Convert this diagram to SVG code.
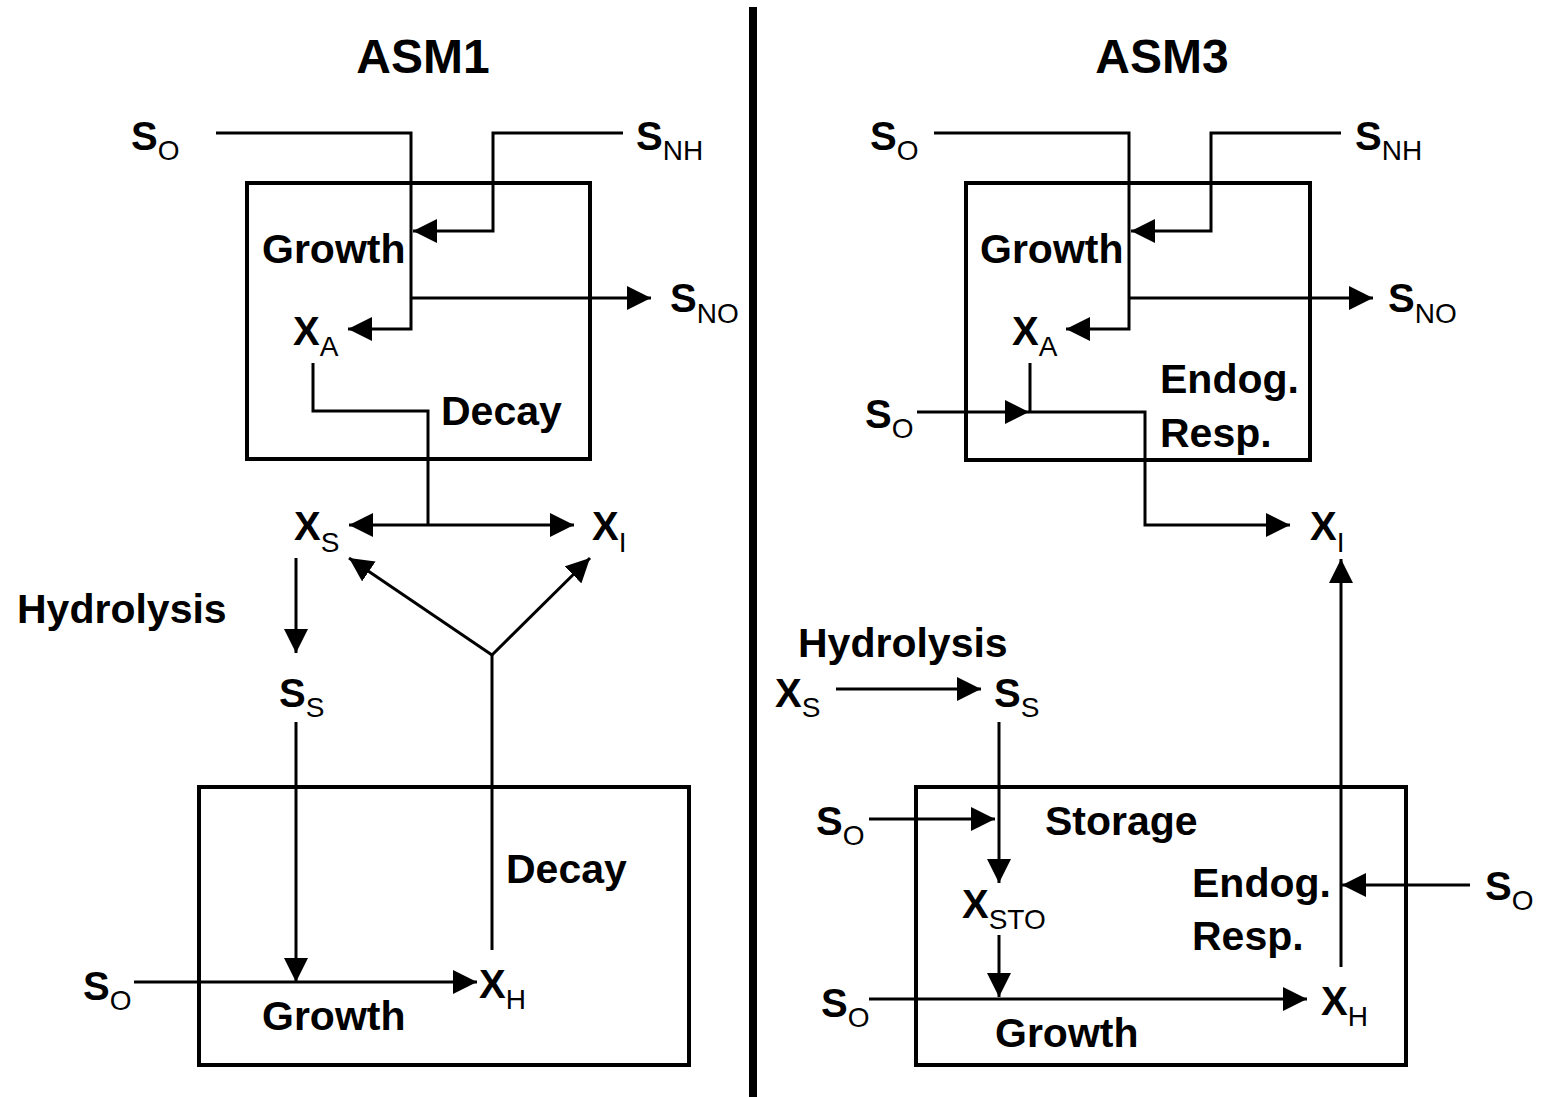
<svg xmlns="http://www.w3.org/2000/svg" width="1544" height="1097" viewBox="0 0 1544 1097">
<style>
text{font-family:"Liberation Sans",Arial,sans-serif;fill:#000}
.t{font-size:48px;font-weight:bold}
.l{font-size:41px;font-weight:bold}
.v{font-size:40px;font-weight:bold}
.s{font-size:28px;font-weight:normal}
.box{fill:none;stroke:#000;stroke-width:4}
.c{fill:none;stroke:#000;stroke-width:3;stroke-linejoin:miter}
.a{marker-end:url(#ah)}
</style>
<defs>
<marker id="ah" markerUnits="userSpaceOnUse" markerWidth="24" markerHeight="24" refX="24" refY="12" orient="auto" viewBox="0 0 24 24">
<path d="M0,0 L24,12 L0,24 z" fill="#000"/>
</marker>
</defs>
<rect width="1544" height="1097" fill="#fff"/>
<line x1="753" y1="7" x2="753" y2="1097" stroke="#000" stroke-width="8"/>
<text class="t" x="423" y="73" text-anchor="middle">ASM1</text>
<text class="t" x="1162" y="73" text-anchor="middle">ASM3</text>

<g id="asm1-autotroph-box"><rect class="box" x="247" y="183" width="343" height="276"/>
<text class="l" x="262" y="263">Growth</text><text class="l" x="441" y="425">Decay</text></g>
<g id="asm1-heterotroph-box"><rect class="box" x="199" y="787" width="490" height="278"/>
<text class="l" x="506" y="883">Decay</text><text class="l" x="262" y="1030">Growth</text></g>
<g id="asm3-autotroph-box"><rect class="box" x="966" y="183" width="344" height="277"/>
<text class="l" x="980" y="263">Growth</text><text class="l" x="1160" y="393">Endog.</text><text class="l" x="1160" y="447">Resp.</text></g>
<g id="asm3-heterotroph-box"><rect class="box" x="916" y="787" width="490" height="278"/>
<text class="l" x="1045" y="835">Storage</text><text class="l" x="1192" y="897">Endog.</text><text class="l" x="1192" y="950">Resp.</text><text class="l" x="995" y="1047">Growth</text></g>

<g id="asm1-labels">
<g id="l-so1"><text class="v" x="131" y="150">S<tspan class="s" dy="10">O</tspan></text></g>
<g id="l-snh1"><text class="v" x="636" y="150">S<tspan class="s" dy="10">NH</tspan></text></g>
<g id="l-sno1"><text class="v" x="670" y="312">S<tspan class="s" dy="11">NO</tspan></text></g>
<g id="l-xa1"><text class="v" x="293" y="345">X<tspan class="s" dy="11">A</tspan></text></g>
<g id="l-xs1"><text class="v" x="294" y="540">X<tspan class="s" dy="12">S</tspan></text></g>
<g id="l-xi1"><text class="v" x="592" y="540">X<tspan class="s" dy="12">I</tspan></text></g>
<g id="l-hyd1"><text class="l" x="17" y="623">Hydrolysis</text></g>
<g id="l-ss1"><text class="v" x="279" y="707">S<tspan class="s" dy="10">S</tspan></text></g>
<g id="l-so2"><text class="v" x="83" y="1000">S<tspan class="s" dy="10">O</tspan></text></g>
<g id="l-xh1"><text class="v" x="479" y="998">X<tspan class="s" dy="11">H</tspan></text></g>
</g>

<g id="asm3-labels">
<g id="r-so1"><text class="v" x="870" y="150">S<tspan class="s" dy="10">O</tspan></text></g>
<g id="r-snh"><text class="v" x="1355" y="150">S<tspan class="s" dy="10">NH</tspan></text></g>
<g id="r-sno"><text class="v" x="1388" y="312">S<tspan class="s" dy="11">NO</tspan></text></g>
<g id="r-xa"><text class="v" x="1012" y="345">X<tspan class="s" dy="11">A</tspan></text></g>
<g id="r-so2"><text class="v" x="865" y="428">S<tspan class="s" dy="10">O</tspan></text></g>
<g id="r-xi"><text class="v" x="1310" y="540">X<tspan class="s" dy="12">I</tspan></text></g>
<g id="r-hyd"><text class="l" x="798" y="657">Hydrolysis</text></g>
<g id="r-xs"><text class="v" x="775" y="707">X<tspan class="s" dy="10">S</tspan></text></g>
<g id="r-ss"><text class="v" x="994" y="707">S<tspan class="s" dy="10">S</tspan></text></g>
<g id="r-so3"><text class="v" x="816" y="835">S<tspan class="s" dy="10">O</tspan></text></g>
<g id="r-xsto"><text class="v" x="962" y="918">X<tspan class="s" dy="11">STO</tspan></text></g>
<g id="r-so4"><text class="v" x="1485" y="900">S<tspan class="s" dy="10">O</tspan></text></g>
<g id="r-so5"><text class="v" x="821" y="1017">S<tspan class="s" dy="10">O</tspan></text></g>
<g id="r-xh"><text class="v" x="1321" y="1015">X<tspan class="s" dy="11">H</tspan></text></g>
</g>

<g id="connectors">
<polyline class="c a" points="216,133 411,133 411,329 348,329"/>
<polyline class="c a" points="623,133 493,133 493,231 413,231"/>
<line class="c a" x1="411" y1="298" x2="651" y2="298"/>
<polyline class="c" points="313,363 313,411 428,411 428,525"/>
<line class="c a" x1="428" y1="525" x2="349" y2="525"/>
<line class="c a" x1="428" y1="525" x2="574" y2="525"/>
<line class="c a" x1="296" y1="558" x2="296" y2="653"/>
<line class="c a" x1="296" y1="722" x2="296" y2="982"/>
<line class="c a" x1="134" y1="982" x2="477" y2="982"/>
<line class="c" x1="492" y1="950" x2="492" y2="655"/>
<line class="c a" x1="492" y1="655" x2="349" y2="558"/>
<line class="c a" x1="492" y1="655" x2="590" y2="558"/>

<polyline class="c a" points="934,133 1129,133 1129,329 1066,329"/>
<polyline class="c a" points="1341,133 1211,133 1211,231 1131,231"/>
<line class="c a" x1="1129" y1="298" x2="1373" y2="298"/>
<polyline class="c a" points="1030,363 1030,412 1145,412 1145,525 1290,525"/>
<line class="c a" x1="917" y1="412" x2="1029" y2="412"/>
<line class="c a" x1="836" y1="689" x2="981" y2="689"/>
<line class="c a" x1="999" y1="722" x2="999" y2="883"/>
<line class="c a" x1="869" y1="819" x2="995" y2="819"/>
<line class="c a" x1="999" y1="935" x2="999" y2="997"/>
<line class="c a" x1="869" y1="999" x2="1307" y2="999"/>
<line class="c a" x1="1341" y1="967" x2="1341" y2="559"/>
<line class="c a" x1="1470" y1="885" x2="1342" y2="885"/>
</g>
</svg>
